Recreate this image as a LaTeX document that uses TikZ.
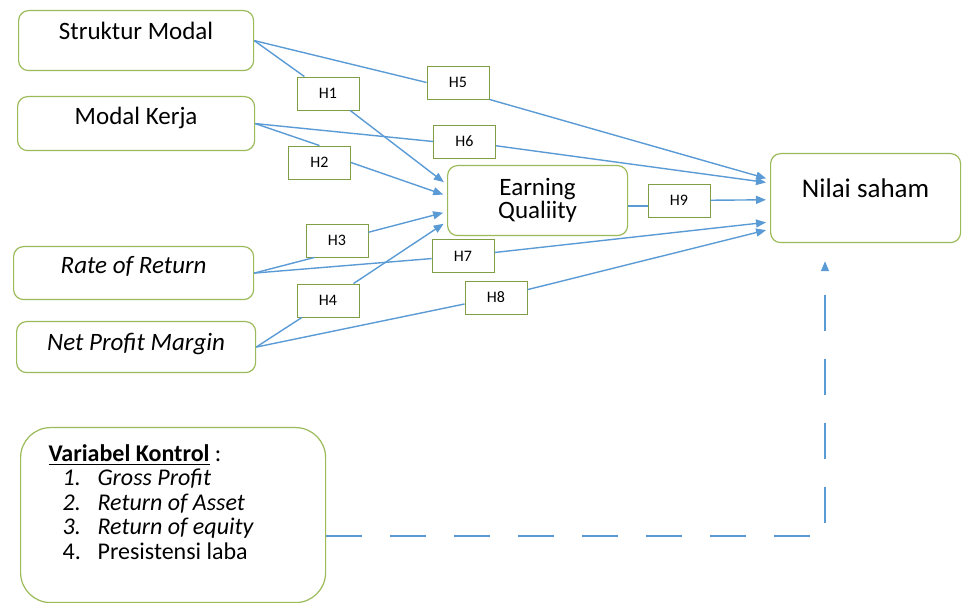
\documentclass[tikz,border=0pt]{standalone}
\usepackage{fontspec}
\setmainfont{Carlito}
\usetikzlibrary{arrows.meta}

\definecolor{boxGreen}{RGB}{155,187,89}
\definecolor{hypGreen}{RGB}{128,158,68}
\definecolor{lineBlue}{RGB}{91,155,213}

\newcommand{\ctrlItem}[2]{\hspace*{7pt}\makebox[17.5pt][l]{#1}#2}

\tikzset{
	varBox/.style={rectangle, draw=boxGreen, line width=0.6pt, rounded corners=5pt, inner sep=0pt, align=center, anchor=north west, font=\fontsize{12.5}{11.5}\selectfont},
	hypBox/.style={rectangle, draw=hypGreen, line width=0.45pt, minimum width=31pt, minimum height=16.5pt, inner sep=0pt, font=\fontsize{8}{9}\selectfont},
	hypLine/.style={draw=lineBlue, line width=0.7pt},
	hypArrow/.style={hypLine, -{Triangle[length=5pt, width=4pt]}, shorten >=2pt},
	controlLine/.style={draw=lineBlue, line width=0.7pt, dash pattern=on 18pt off 14pt, -{Triangle[length=5pt, width=4pt]}, shorten >=9pt}
}

\begin{document}
\begin{tikzpicture}[x=0.5pt, y=-0.5pt]
\useasboundingbox (0,0) rectangle (964,603);

	\node[varBox, minimum width=117.5pt, text height=14.5pt, text depth=15.5pt] (strukturBox) at (18,10){Struktur Modal};
	\node[varBox, minimum width=118.5pt, text height=13.75pt, text depth=13.25pt] (modalKerjaBox) at (17,96){Modal Kerja};
	\node[varBox, minimum width=120pt, text height=13.5pt, text depth=13pt, font=\fontsize{12.5}{11.5}\selectfont\itshape] (rorBox) at (13,246){Rate of Return};
	\node[varBox, minimum width=119.5pt, text height=14.5pt, text depth=11pt, font=\fontsize{12.5}{11.5}\selectfont\itshape] (npmBox) at (16,321){Net Profit Margin};

	\node[varBox, minimum width=90pt, text height=26.5pt, text depth=8.5pt] (eqBox) at (447,165){Earning\\Qualiity};
	\node[varBox, minimum width=95pt, text height=22pt, text depth=22.5pt, font=\fontsize{13.5}{12}\selectfont] (nilaiBox) at (770,153){Nilai saham};

	\node[varBox, rounded corners=15pt, align=left, text width=124.5pt, inner xsep=14pt, text height=17pt, text depth=70.5pt, font=\fontsize{12}{12.2}\selectfont] (kontrolBox) at (20,427){\spaceskip=0pt\xspaceskip=0pt\underline{\textbf{Variabel Kontrol}} :\\
		\ctrlItem{\textit{1.}}{\textit{Gross Profit}}\\
		\ctrlItem{\textit{2.}}{\textit{Return of Asset}}\\
		\ctrlItem{\textit{3.}}{\textit{Return of equity}}\\
		\ctrlItem{4.}{Presistensi laba}};

	\node[hypBox] (h1Box) at (328,93.5){H1};
	\node[hypBox] (h2Box) at (319.5,162.5){H2};
	\node[hypBox] (h3Box) at (337,240.5){H3};
	\node[hypBox] (h4Box) at (328,300.5){H4};
	\node[hypBox] (h5Box) at (458,82.5){H5};
	\node[hypBox] (h6Box) at (464.5,141.5){H6};
	\node[hypBox] (h7Box) at (463,256){H7};
	\node[hypBox] (h8Box) at (496,297.5){H8};
	\node[hypBox] (h9Box) at (679,200.5){H9};

	\draw[hypLine] (strukturBox.east) -- (h1Box);
	\draw[hypArrow] (h1Box) -- (eqBox.170);
	\draw[hypLine] (modalKerjaBox.east) -- (h2Box.north);
	\draw[hypArrow] (h2Box.east) -- (eqBox.177);
	\draw[hypLine] (rorBox.east) -- (h3Box.217);
	\draw[hypArrow] (h3Box) -- (eqBox.187);
	\draw[hypLine] (npmBox.east) -- (h4Box);
	\draw[hypArrow] (h4Box) -- (eqBox.193);

	\draw[hypLine] (strukturBox.east) -- (h5Box.west);
	\draw[hypArrow] (h5Box.south east) -- (nilaiBox.169);
	\draw[hypLine] (modalKerjaBox.east) -- (h6Box.west);
	\draw[hypArrow] (h6Box) -- (nilaiBox.171);
	\draw[hypLine] (rorBox.east) -- (h7Box);
	\draw[hypArrow] (h7Box) -- (nilaiBox.194);
	\draw[hypLine] (npmBox.east) -- (h8Box);
	\draw[hypArrow] (h8Box) -- (nilaiBox.198);

	\draw[hypLine] (eqBox.east |- h9Box.-170) -- (h9Box.-170);
	\draw[hypArrow] (h9Box) -- (nilaiBox.181);

	\coordinate (kontrolCorner) at (825,536);
	\draw[controlLine] (kontrolBox.east |- kontrolCorner) -- (kontrolCorner) -- (kontrolCorner |- nilaiBox.south);
\end{tikzpicture}
\end{document}
